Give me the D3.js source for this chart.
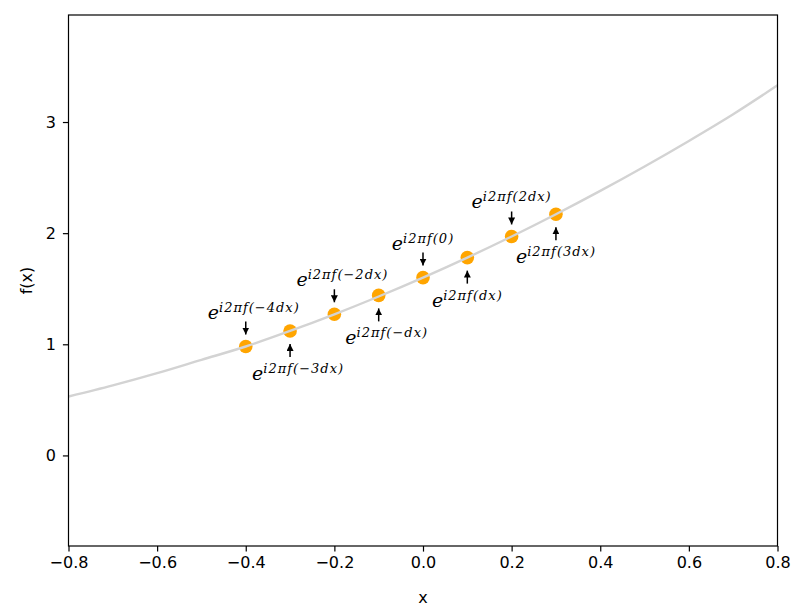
<!DOCTYPE html>
<html>
<head>
<meta charset="utf-8">
<script src="https://cdn.jsdelivr.net/npm/d3@7"></script>
<style>
  body { margin: 0; background: #fff; }
  text { font-family: "DejaVu Sans", sans-serif; }
</style>
</head>
<body>
<div id="chart"></div>
<script>
// curve, step 0.1
const curveX = [-0.8, -0.7, -0.6, -0.5, -0.4, -0.3, -0.2, -0.1, 0, 0.1, 0.2, 0.3, 0.4, 0.5, 0.6, 0.7, 0.8];
const curveY = [0.53, 0.63, 0.74, 0.86, 0.98, 1.12, 1.27, 1.43, 1.60, 1.78, 1.97, 2.17, 2.38, 2.60, 2.83, 3.07, 3.33];

// sampled points (orange dots)
const pointX = [-0.4, -0.3, -0.2, -0.1, 0, 0.1, 0.2, 0.3];
const pointY = [0.98, 1.12, 1.27, 1.44, 1.60, 1.78, 1.97, 2.17];
const pointArgs = ["\u22124dx", "\u22123dx", "\u22122dx", "\u2212dx", "0", "dx", "2dx", "3dx"];

const xTicks = [-0.8, -0.6, -0.4, -0.2, 0.0, 0.2, 0.4, 0.6, 0.8];
const yTicks = [0, 1, 2, 3];

const width = 799, height = 614;
const margin = {top: 15, right: 21.5, bottom: 68, left: 68.5};

const svg = d3.select("#chart").append("svg")
  .attr("width", width)
  .attr("height", height);

const x = d3.scaleLinear().domain([-0.8, 0.8]).range([margin.left, width - margin.right]);
const y = d3.scaleLinear().domain([-0.815, 3.963]).range([height - margin.bottom, margin.top]);

// arrow head
svg.append("defs").append("marker")
  .attr("id", "head")
  .attr("viewBox", "0 0 10 10")
  .attr("refX", 10).attr("refY", 5)
  .attr("markerWidth", 7).attr("markerHeight", 7)
  .attr("markerUnits", "userSpaceOnUse")
  .attr("orient", "auto")
  .append("path")
  .attr("d", "M0,0L10,5L0,10z")
  .attr("fill", "#000");

// dots first, the grey curve sits on top of them
svg.append("g").selectAll("circle")
  .data(pointX)
  .enter().append("circle")
  .attr("cx", d => x(d))
  .attr("cy", (d, i) => y(pointY[i]))
  .attr("r", 6.8)
  .attr("fill", "#ffa500");

const line = d3.line()
  .x(d => x(d))
  .y((d, i) => y(curveY[i]))
  .curve(d3.curveMonotoneX);

svg.append("path")
  .datum(curveX)
  .attr("d", line)
  .attr("fill", "none")
  .attr("stroke", "#d3d3d3")
  .attr("stroke-width", 2.4);

// annotations: even ones above, odd ones below
const ann = svg.append("g");
pointX.forEach((px, i) => {
  const cx = x(px), cy = y(pointY[i]);
  const above = i % 2 === 0;
  const shift = pointArgs[i].startsWith("\u2212") ? 8 : 0;

  ann.append("line")
    .attr("x1", cx).attr("x2", cx)
    .attr("y1", above ? cy - 25 : cy + 26)
    .attr("y2", above ? cy - 12 : cy + 13)
    .attr("stroke", "#000")
    .attr("stroke-width", 1.5)
    .attr("marker-end", "url(#head)");

  const t = ann.append("text")
    .attr("x", cx + shift)
    .attr("y", above ? cy - 28 : cy + 49)
    .attr("text-anchor", "middle")
    .style("font-family", "'DejaVu Serif', serif")
    .style("font-style", "italic");
  t.append("tspan").attr("font-size", 19).text("e");
  t.append("tspan")
    .attr("font-size", 13)
    .attr("dy", -7)
    .attr("letter-spacing", 1)
    .text("i2\u03c0f(" + pointArgs[i] + ")");
});

// axes
const fmt = d => d3.format(".1f")(d).replace("-", "\u2212");

svg.append("g")
  .attr("transform", `translate(0,${height - margin.bottom})`)
  .call(d3.axisBottom(x).tickValues(xTicks).tickFormat(fmt).tickSize(5.6).tickPadding(5))
  .call(g => g.select(".domain").remove())
  .call(g => g.selectAll("text").attr("font-size", 16).attr("fill", "#000").style("font-family", "'DejaVu Sans', sans-serif"))
  .call(g => g.selectAll("line").attr("stroke", "#000").attr("stroke-width", 1.2));

svg.append("g")
  .attr("transform", `translate(${margin.left},0)`)
  .call(d3.axisLeft(y).tickValues(yTicks).tickFormat(d3.format("d")).tickSize(5.6).tickPadding(7))
  .call(g => g.select(".domain").remove())
  .call(g => g.selectAll("text").attr("font-size", 16).attr("fill", "#000").style("font-family", "'DejaVu Sans', sans-serif"))
  .call(g => g.selectAll("line").attr("stroke", "#000").attr("stroke-width", 1.2));

// frame
svg.append("rect")
  .attr("x", margin.left).attr("y", margin.top)
  .attr("width", width - margin.left - margin.right)
  .attr("height", height - margin.top - margin.bottom)
  .attr("fill", "none")
  .attr("stroke", "#000")
  .attr("stroke-width", 1.2);

svg.append("text")
  .attr("x", (margin.left + width - margin.right) / 2)
  .attr("y", 603)
  .attr("text-anchor", "middle")
  .attr("font-size", 16)
  .text("x");

svg.append("text")
  .attr("transform", `translate(32,${(margin.top + height - margin.bottom) / 2}) rotate(-90)`)
  .attr("text-anchor", "middle")
  .attr("font-size", 16)
  .text("f(x)");
</script>
</body>
</html>
